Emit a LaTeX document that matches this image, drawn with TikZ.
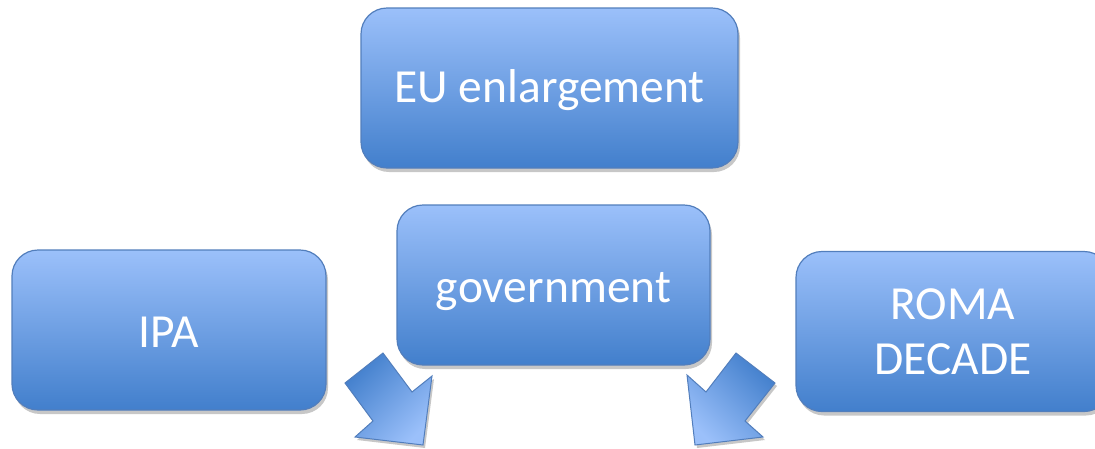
\documentclass[tikz,border=0pt]{standalone}
\usepackage{fontspec}
\setmainfont{Carlito}
\usetikzlibrary{shadows}

\definecolor{boxtop}{RGB}{155,192,250}
\definecolor{boxbot}{RGB}{66,127,204}
\definecolor{boxline}{RGB}{82,126,188}

\begin{document}
\begin{tikzpicture}[x=1pt,y=-1pt,
  topic/.style={draw=boxline, line width=1.2pt, rounded corners=26pt,
    top color=boxtop, bottom color=boxbot, text=white, align=center,
    minimum height=160pt, inner sep=0pt,
    font=\fontsize{47.5}{55}\selectfont,
    drop shadow={shadow xshift=2pt, shadow yshift=-4pt, fill=black, opacity=0.22}},
  bigarrow/.style={draw=boxline, line width=1pt, line join=miter,
    top color=boxbot, bottom color=boxtop,
    drop shadow={shadow xshift=2pt, shadow yshift=-3pt, fill=black, opacity=0.22}}]
  \useasboundingbox (0,0) rectangle (1095,448);
  \clip (0,0) rectangle (1095,448);

  % Boxes
  \node[topic, minimum width=377pt, text height=34pt, text depth=6pt]
    (eu) at (549.5,88) {EU enlargement};
  \node[topic, minimum width=313pt, text height=36pt, text depth=2pt]
    (gov) at (553.5,285) {government};
  \node[topic, minimum width=314pt, text height=36pt, text depth=2pt]
    (ipa) at (169,330) {IPA};
  \node[topic, minimum width=314pt] (roma) at (953,331.5) {ROMA\\DECADE};

  % Arrows
  \path[bigarrow, shading angle=45]
    (383,353) -- (412,392) -- (432,376) -- (423,445) -- (355,437)
    -- (373,421) -- (345,383) -- cycle;
  \path[bigarrow, shading angle=-45]
    (736,353) -- (706,392) -- (687,375) -- (695,445) -- (763,437)
    -- (745,421) -- (775,383) -- cycle;
\end{tikzpicture}
\end{document}
